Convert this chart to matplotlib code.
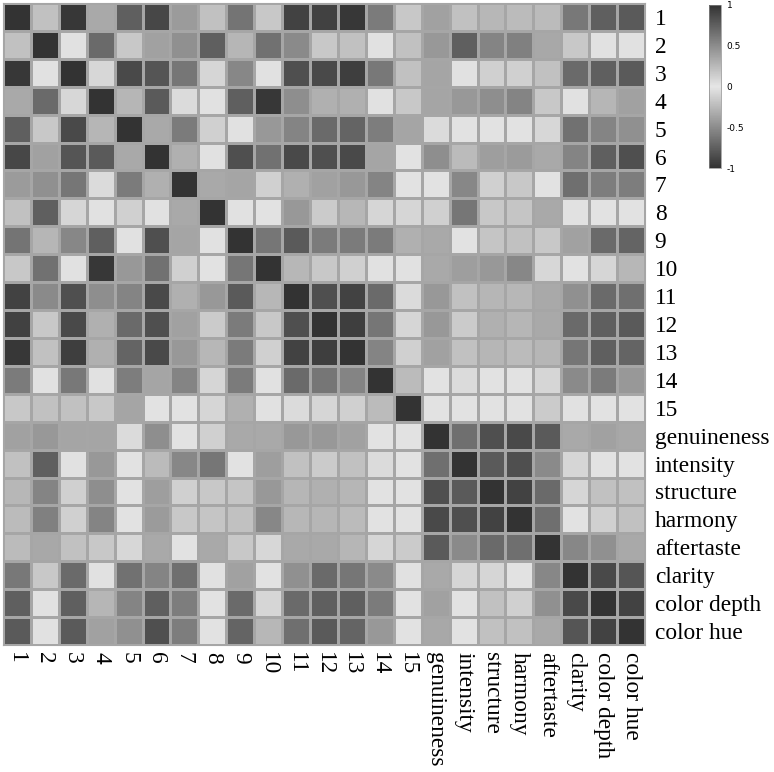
import numpy as np
import matplotlib
matplotlib.use("Agg")
import matplotlib.pyplot as plt
from matplotlib.colors import LinearSegmentedColormap

labels = ["1", "2", "3", "4", "5", "6", "7", "8", "9", "10", "11", "12", "13", "14", "15",
          "genuineness", "intensity", "structure", "harmony", "aftertaste",
          "clarity", "color depth", "color hue"]

# upper triangle of the correlation matrix (row i, columns i+1 .. 23); magnitudes read from grey level
r1 = [0.21, 0.97, 0.34, 0.75, 0.89, 0.42, 0.21, 0.64, 0.17, 0.91, 0.92, 0.97, 0.60, 0.17, 0.39, 0.21, 0.26, 0.24, 0.24, 0.61, 0.75, 0.78]
r2 = [0.03, 0.69, 0.17, 0.39, 0.48, 0.75, 0.27, 0.65, 0.51, 0.17, 0.21, 0.03, 0.21, 0.43, 0.75, 0.54, 0.57, 0.35, 0.17, 0.03, 0.03]
r3 = [0.08, 0.87, 0.81, 0.62, 0.09, 0.53, 0.03, 0.84, 0.87, 0.93, 0.61, 0.21, 0.36, 0.03, 0.12, 0.12, 0.21, 0.69, 0.75, 0.78]
r4 = [0.27, 0.78, 0.06, 0.03, 0.75, 0.97, 0.49, 0.30, 0.30, 0.03, 0.17, 0.36, 0.43, 0.49, 0.54, 0.17, 0.03, 0.27, 0.39]
r5 = [0.34, 0.60, 0.12, 0.03, 0.43, 0.54, 0.69, 0.72, 0.58, 0.36, 0.06, 0.02, 0.02, 0.02, 0.08, 0.65, 0.54, 0.48]
r6 = [0.30, 0.03, 0.84, 0.65, 0.87, 0.84, 0.87, 0.36, 0.02, 0.49, 0.24, 0.40, 0.42, 0.34, 0.54, 0.75, 0.84]
r7 = [0.34, 0.36, 0.12, 0.30, 0.39, 0.43, 0.54, 0.02, 0.02, 0.53, 0.12, 0.17, 0.02, 0.66, 0.58, 0.58]
r8 = [0.03, 0.02, 0.43, 0.15, 0.26, 0.09, 0.09, 0.12, 0.62, 0.17, 0.18, 0.34, 0.03, 0.02, 0.02]
r9 = [0.62, 0.78, 0.60, 0.60, 0.60, 0.30, 0.34, 0.02, 0.18, 0.21, 0.17, 0.39, 0.69, 0.72]
r10 = [0.26, 0.17, 0.12, 0.03, 0.03, 0.34, 0.40, 0.43, 0.53, 0.08, 0.02, 0.09, 0.26]
r11 = [0.84, 0.91, 0.69, 0.06, 0.43, 0.21, 0.27, 0.26, 0.34, 0.48, 0.69, 0.66]
r12 = [0.93, 0.62, 0.09, 0.43, 0.15, 0.30, 0.27, 0.34, 0.69, 0.75, 0.78]
r13 = [0.54, 0.12, 0.39, 0.21, 0.27, 0.24, 0.27, 0.62, 0.75, 0.72]
r14 = [0.24, 0.02, 0.06, 0.02, 0.02, 0.09, 0.51, 0.60, 0.43]
r15 = [0.02, 0.02, 0.02, 0.02, 0.15, 0.03, 0.02, 0.02]
r16 = [0.66, 0.84, 0.87, 0.78, 0.34, 0.39, 0.35]
r17 = [0.78, 0.84, 0.51, 0.09, 0.02, 0.02]
r18 = [0.91, 0.69, 0.09, 0.21, 0.21]
r19 = [0.66, 0.02, 0.12, 0.21]
r20 = [0.53, 0.48, 0.34]
r21 = [0.87, 0.81]
r22 = [0.91]

upper = [r1, r2, r3, r4, r5, r6, r7, r8, r9, r10, r11, r12, r13, r14, r15,
         r16, r17, r18, r19, r20, r21, r22]

n = len(labels)
M = np.eye(n)
for i, row in enumerate(upper):
    for k, v in enumerate(row):
        j = i + 1 + k
        M[i, j] = v
        M[j, i] = v

W, H = 774, 772
fig = plt.figure(figsize=(W / 100, H / 100), dpi=100)
fig.patch.set_facecolor("white")

cmap = LinearSegmentedColormap.from_list("absgrey", ["#333333", "#e6e6e6", "#333333"])

gx0, gx1, gy0, gy1 = 3, 645, 3, 645
ax = fig.add_axes([gx0 / W, 1 - gy1 / H, (gx1 - gx0) / W, (gy1 - gy0) / H])
mesh = ax.pcolormesh(np.arange(n + 1), np.arange(n + 1), M, cmap=cmap, vmin=-1, vmax=1,
                     edgecolors="#a6a6a6", linewidth=0.8)
ax.set_xlim(0, n)
ax.set_ylim(n, 0)
for s in ax.spines.values():
    s.set_edgecolor("#a6a6a6")
    s.set_linewidth(0.8)

serif = ["Liberation Serif", "DejaVu Serif"]
ax.set_xticks(np.arange(n) + 0.5)
ax.set_yticks(np.arange(n) + 0.5)
ax.set_xticklabels(labels, rotation=270, family=serif, fontsize=16.8)
ax.set_yticklabels(labels, family=serif, fontsize=16.8)
ax.yaxis.tick_right()
ax.tick_params(axis="y", length=0, pad=7)
ax.tick_params(axis="x", length=0, pad=5)

cax = fig.add_axes([709 / W, 1 - 168 / H, 12 / W, 163 / H])
cb = fig.colorbar(mesh, cax=cax)
cb.set_ticks([1, 0.5, 0, -0.5, -1])
cb.set_ticklabels(["1", "0.5", "0", "-0.5", "-1"])
cb.ax.tick_params(length=0, labelsize=6.5, pad=4)
cb.outline.set_linewidth(0.5)
cb.outline.set_edgecolor("#888888")

fig.savefig("out.png", dpi=100, facecolor="white")
